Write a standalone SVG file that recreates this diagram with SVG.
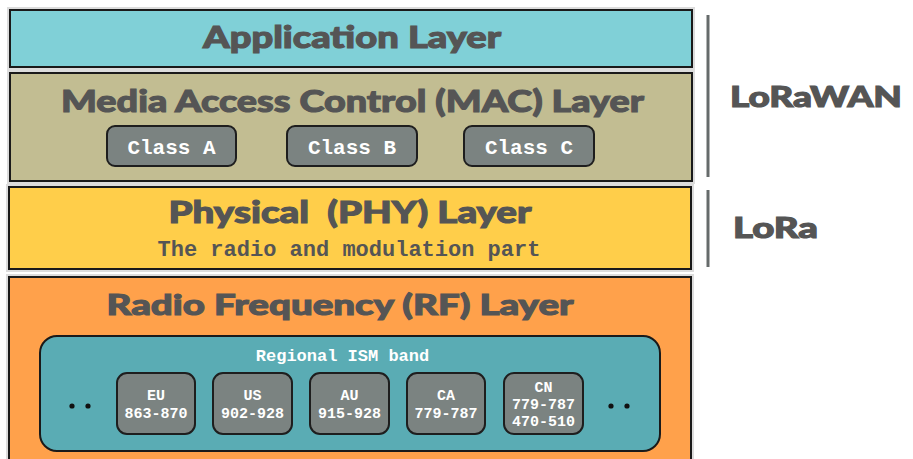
<svg xmlns="http://www.w3.org/2000/svg" width="913" height="459" viewBox="0 0 913 459">
  <style>
    .halo { fill: none; stroke: #dcdcdc; stroke-width: 6; }
    .layer { stroke: #1a1a1a; stroke-width: 2; }
    .title { font-family: Lato, "Open Sans", "Liberation Sans", sans-serif; font-weight: 900; fill: #555555; stroke: #555555; stroke-width: 1.1; text-anchor: middle; }
    .side { font-family: Lato, "Open Sans", "Liberation Sans", sans-serif; font-weight: 900; fill: #555555; stroke: #555555; stroke-width: 1.1; }
    .mono { font-family: "Liberation Mono", "DejaVu Sans Mono", monospace; font-weight: bold; text-anchor: middle; }
    .chip { fill: #7b8381; stroke: #1e1e1e; stroke-width: 2; }
    .chiptext { fill: #ffffff; }
    .bar { stroke: #666b6b; stroke-width: 3; }
    .dot { fill: #111111; }
  </style>

  <rect width="913" height="459" fill="#ffffff"/>

  <!-- Application layer -->
  <g id="application-layer">
    <rect class="halo" x="10" y="10" width="682" height="57"/>
    <rect class="layer" x="10" y="10" width="682" height="57" fill="#80d0d7"/>
    <text class="title" x="352" y="48" font-size="30" textLength="298" lengthAdjust="spacingAndGlyphs">Application Layer</text>
  </g>

  <!-- MAC layer with device classes -->
  <g id="mac-layer">
    <rect class="halo" x="10" y="73" width="682" height="108"/>
    <rect class="layer" x="10" y="73" width="682" height="108" fill="#c2bd92"/>
    <text class="title" x="352.5" y="112" font-size="31" textLength="583" lengthAdjust="spacingAndGlyphs">Media Access Control (MAC) Layer</text>
  </g>
  <g id="class-a">
    <rect class="chip" x="107" y="126" width="129" height="40" rx="8"/>
    <text class="mono chiptext" x="171.5" y="154" font-size="21">Class A</text>
  </g>
  <g id="class-b">
    <rect class="chip" x="287" y="126" width="130" height="40" rx="8"/>
    <text class="mono chiptext" x="352" y="154" font-size="21">Class B</text>
  </g>
  <g id="class-c">
    <rect class="chip" x="464" y="126" width="130" height="40" rx="8"/>
    <text class="mono chiptext" x="529" y="154" font-size="21">Class C</text>
  </g>

  <!-- Physical layer -->
  <g id="phy-layer">
    <rect class="halo" x="9" y="187" width="682" height="82"/>
    <rect class="layer" x="9" y="187" width="682" height="82" fill="#ffce4a"/>
    <text class="title" x="350" y="223" font-size="31" textLength="363" lengthAdjust="spacingAndGlyphs" xml:space="preserve">Physical  (PHY) Layer</text>
    <text class="mono" x="349" y="256" font-size="22" fill="#555555">The radio and modulation part</text>
  </g>

  <!-- RF layer with regional bands -->
  <g id="rf-layer">
    <rect class="halo" x="9" y="277" width="682" height="200"/>
    <rect class="layer" x="9" y="277" width="682" height="200" fill="#ffa14b"/>
    <text class="title" x="340" y="315" font-size="29" textLength="467" lengthAdjust="spacingAndGlyphs">Radio Frequency (RF) Layer</text>
  </g>
  <g id="ism-band">
    <rect x="40" y="336" width="620" height="115" rx="17" fill="#5aacb4" stroke="#1a1a1a" stroke-width="2"/>
    <text class="mono chiptext" x="342.5" y="361" font-size="17">Regional ISM band</text>
    <circle class="dot" cx="72" cy="406" r="2.6"/>
    <circle class="dot" cx="88" cy="406" r="2.6"/>
    <circle class="dot" cx="611" cy="406" r="2.6"/>
    <circle class="dot" cx="627" cy="406" r="2.6"/>
  </g>
  <g id="band-eu">
    <rect class="chip" x="117" y="373" width="78" height="61" rx="10"/>
    <text class="mono chiptext" x="156" y="400" font-size="15">EU</text>
    <text class="mono chiptext" x="156" y="418" font-size="15">863-870</text>
  </g>
  <g id="band-us">
    <rect class="chip" x="213" y="373" width="79" height="61" rx="10"/>
    <text class="mono chiptext" x="252.5" y="400" font-size="15">US</text>
    <text class="mono chiptext" x="252.5" y="418" font-size="15">902-928</text>
  </g>
  <g id="band-au">
    <rect class="chip" x="310" y="373" width="79" height="61" rx="10"/>
    <text class="mono chiptext" x="349.5" y="400" font-size="15">AU</text>
    <text class="mono chiptext" x="349.5" y="418" font-size="15">915-928</text>
  </g>
  <g id="band-ca">
    <rect class="chip" x="407" y="373" width="78" height="61" rx="10"/>
    <text class="mono chiptext" x="446" y="400" font-size="15">CA</text>
    <text class="mono chiptext" x="446" y="418" font-size="15">779-787</text>
  </g>
  <g id="band-cn">
    <rect class="chip" x="504" y="373" width="79" height="61" rx="10"/>
    <text class="mono chiptext" x="543.5" y="392" font-size="15">CN</text>
    <text class="mono chiptext" x="543.5" y="409" font-size="15">779-787</text>
    <text class="mono chiptext" x="543.5" y="426" font-size="15">470-510</text>
  </g>

  <!-- Scope brackets and labels -->
  <g id="connectors">
    <line class="bar" x1="708" y1="15" x2="708" y2="177"/>
    <line class="bar" x1="708" y1="190" x2="708" y2="267"/>
  </g>
  <g id="label-lorawan">
    <text class="side" x="730" y="107" font-size="29" textLength="172" lengthAdjust="spacingAndGlyphs">LoRaWAN</text>
  </g>
  <g id="label-lora">
    <text class="side" x="733" y="238" font-size="29" textLength="85" lengthAdjust="spacingAndGlyphs">LoRa</text>
  </g>
</svg>
